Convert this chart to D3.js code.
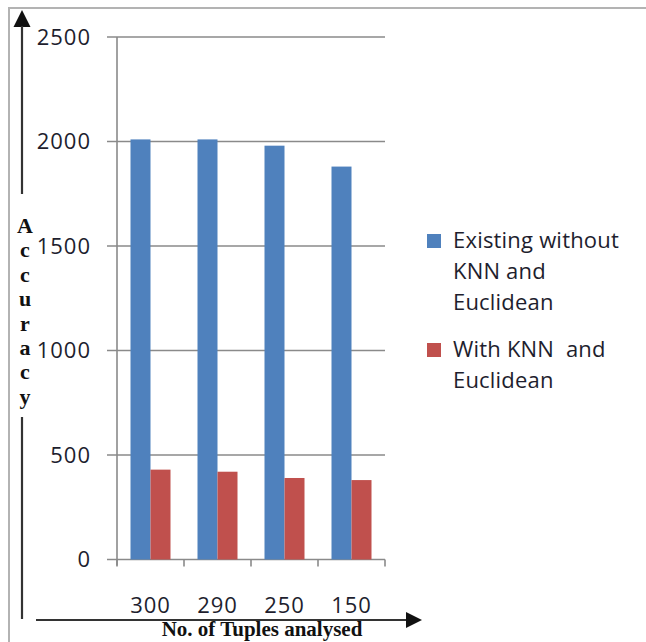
<!DOCTYPE html>
<html>
<head>
<meta charset="utf-8">
<script src="https://cdn.jsdelivr.net/npm/d3@7"></script>
<style>
  html, body { margin: 0; padding: 0; background: #fff; }
  svg { display: block; }
</style>
</head>
<body>
<svg id="chart" width="646" height="642"></svg>
<script>
// Tuples analysed per run, and the accuracy of each method
const categories = ["300", "290", "250", "150"];
const seriesNames = ["Existing without KNN and Euclidean", "With KNN and Euclidean"];
const existingValues = [2010, 2010, 1980, 1880];
const knnValues = [430, 420, 390, 380];
const yTicks = [0, 500, 1000, 1500, 2000, 2500];
const legendLines = [["Existing without", "KNN and", "Euclidean"], ["With KNN  and", "Euclidean"]];
const colors = ["#4f81bd", "#c0504d"];

const svg = d3.select("#chart");
const labelFont = "'Open Sans', sans-serif";
const titleFont = "'Liberation Serif', 'Times New Roman', serif";

// outer frame (left and top edges)
svg.append("path")
  .attr("d", "M9,642 L9,8 L646,8")
  .attr("fill", "none").attr("stroke", "#b3b3b3").attr("stroke-width", 2);

const x0 = d3.scaleBand().domain(categories).range([117, 385]).paddingInner(0).paddingOuter(0);
const x1 = d3.scaleBand().domain(seriesNames).range([0, x0.bandwidth()]).paddingInner(0).paddingOuter(0.675);
const y = d3.scaleLinear().domain([0, 2500]).range([559.5, 37]);

// horizontal gridlines with tick stubs
svg.append("g").selectAll("line").data(yTicks).join("line")
  .attr("x1", 107).attr("x2", 385)
  .attr("y1", d => y(d)).attr("y2", d => y(d))
  .attr("stroke", "#8a8a8a").attr("stroke-width", 1.6);

// value axis line
svg.append("line")
  .attr("x1", 117).attr("x2", 117).attr("y1", y(2500)).attr("y2", y(0) + 6)
  .attr("stroke", "#8a8a8a").attr("stroke-width", 1.6);

// category tick marks
const boundaries = categories.map(c => x0(c)).concat([x0(categories[categories.length - 1]) + x0.bandwidth()]);
svg.append("g").selectAll("line").data(boundaries).join("line")
  .attr("x1", d => d).attr("x2", d => d)
  .attr("y1", y(0)).attr("y2", y(0) + 7)
  .attr("stroke", "#8a8a8a").attr("stroke-width", 1.6);

// bars
const rows = categories.map((c, i) => ({ cat: c, vals: [existingValues[i], knnValues[i]] }));
const groups = svg.append("g").selectAll("g").data(rows).join("g")
  .attr("transform", d => `translate(${x0(d.cat)},0)`);
groups.selectAll("rect").data(d => d.vals.map((v, j) => ({ name: seriesNames[j], v, j })))
  .join("rect")
  .attr("x", d => x1(d.name))
  .attr("width", x1.bandwidth())
  .attr("y", d => y(d.v))
  .attr("height", d => y(0) - y(d.v))
  .attr("fill", d => colors[d.j]);

// y tick labels
svg.append("g").selectAll("text").data(yTicks).join("text")
  .attr("x", 91).attr("y", d => y(d))
  .attr("dy", "0.36em")
  .attr("text-anchor", "end")
  .attr("font-family", labelFont).attr("font-size", 22)
  .attr("letter-spacing", 1)
  .attr("fill", "#1e1e2e")
  .text(d => d);

// category labels
svg.append("g").selectAll("text").data(categories).join("text")
  .attr("x", d => x0(d) + x0.bandwidth() / 2)
  .attr("y", 613)
  .attr("text-anchor", "middle")
  .attr("font-family", labelFont).attr("font-size", 22)
  .attr("letter-spacing", 1)
  .attr("fill", "#1e1e2e")
  .text(d => d);

// legend
const legendTop = [248, 357];
seriesNames.forEach((name, i) => {
  svg.append("rect")
    .attr("x", 427).attr("y", legendTop[i] - 14)
    .attr("width", 14).attr("height", 14)
    .attr("fill", colors[i]);
  legendLines[i].forEach((line, k) => {
    svg.append("text")
      .attr("x", 453).attr("y", legendTop[i] + k * 31)
      .attr("font-family", labelFont).attr("font-size", 22)
      .attr("letter-spacing", 0.2)
      .attr("fill", "#1e1e2e")
      .style("white-space", "pre")
      .text(line);
  });
});

// vertical axis arrow with stacked title
const arrowColor = "#333";
svg.append("path").attr("d", "M22,10 L13.5,27 L30.5,27 Z").attr("fill", "#111");
svg.append("line").attr("x1", 22).attr("x2", 22).attr("y1", 26).attr("y2", 194)
  .attr("stroke", arrowColor).attr("stroke-width", 2.2);
svg.append("line").attr("x1", 22).attr("x2", 22).attr("y1", 417).attr("y2", 619)
  .attr("stroke", arrowColor).attr("stroke-width", 2.2);

const yTitle = "Accuracy".split("");
svg.append("g").selectAll("text").data(yTitle).join("text")
  .attr("x", 25).attr("y", (d, i) => 233 + i * 24.4)
  .attr("text-anchor", "middle")
  .attr("font-family", titleFont).attr("font-weight", "bold").attr("font-size", 22)
  .attr("fill", "#111")
  .text(d => d);

// horizontal axis arrow with title
svg.append("line").attr("x1", 36).attr("x2", 408).attr("y1", 620).attr("y2", 620)
  .attr("stroke", arrowColor).attr("stroke-width", 2.2);
svg.append("path").attr("d", "M422,620 L406,612 L406,628 Z").attr("fill", "#111");
svg.append("text")
  .attr("x", 262).attr("y", 636)
  .attr("text-anchor", "middle")
  .attr("font-family", titleFont).attr("font-weight", "bold").attr("font-size", 21)
  .attr("letter-spacing", 0)
  .attr("fill", "#111")
  .text("No. of Tuples analysed");
</script>
</body>
</html>
